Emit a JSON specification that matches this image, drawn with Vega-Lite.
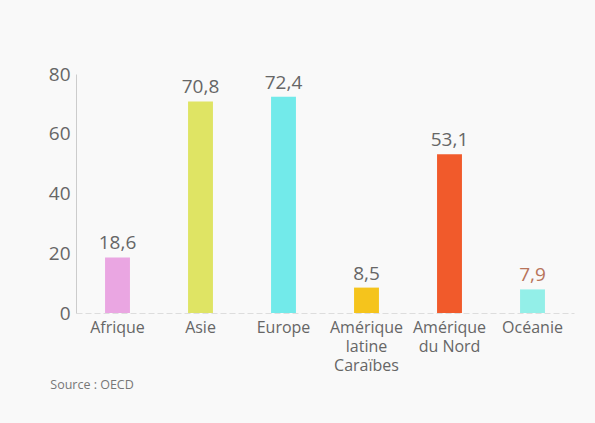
{
  "$schema": "https://vega.github.io/schema/vega-lite/v6.json",
  "width": 498,
  "height": 239,
  "autosize": {"type": "none"},
  "padding": {"left": 76, "top": 74, "right": 21, "bottom": 110},
  "background": "#f9f9f9",
  "config": {
    "font": "Open Sans",
    "view": {"stroke": null},
    "locale": {"number": {"decimal": ",", "thousands": " ", "grouping": [3], "currency": ["", " €"]}}
  },
  "title": {
    "text": "Source : OECD",
    "orient": "bottom",
    "anchor": "start",
    "dx": 2,
    "offset": 6,
    "fontSize": 12.5,
    "fontWeight": "normal",
    "color": "#777"
  },
  "data": {
    "values": [
      {"region": "Afrique", "value": 18.6},
      {"region": "Asie", "value": 70.8},
      {"region": "Europe", "value": 72.4},
      {"region": "Amérique latine Caraïbes", "value": 8.5},
      {"region": "Amérique du Nord", "value": 53.1},
      {"region": "Océanie", "value": 7.9}
    ]
  },
  "encoding": {
    "x": {
      "field": "region",
      "type": "nominal",
      "sort": null,
      "scale": {"paddingInner": 0.7, "paddingOuter": 0.35},
      "axis": {
        "title": null,
        "labelAngle": 0,
        "ticks": false,
        "labelFontSize": 16,
        "labelColor": "#666",
        "labelPadding": 6,
        "labelLineHeight": 19,
        "domainColor": "#ddd",
        "domainDash": [6, 3],
        "labelExpr": "datum.value == 'Amérique latine Caraïbes' ? ['Amérique', 'latine', 'Caraïbes'] : datum.value == 'Amérique du Nord' ? ['Amérique', 'du Nord'] : datum.value"
      }
    },
    "y": {
      "field": "value",
      "type": "quantitative",
      "scale": {"domain": [0, 80]},
      "axis": {
        "title": null,
        "values": [0, 20, 40, 60, 80],
        "grid": false,
        "ticks": false,
        "labelFontSize": 19,
        "labelColor": "#666",
        "labelPadding": 6,
        "domainColor": "#ccc"
      }
    }
  },
  "layer": [
    {
      "mark": {"type": "bar"},
      "encoding": {
        "color": {
          "field": "region",
          "type": "nominal",
          "legend": null,
          "scale": {
            "domain": ["Afrique", "Asie", "Europe", "Amérique latine Caraïbes", "Amérique du Nord", "Océanie"],
            "range": ["#eaa6e2", "#dfe464", "#72eaea", "#f5c41c", "#f15a2b", "#93efe8"]
          }
        }
      }
    },
    {
      "mark": {"type": "text", "dy": -14, "fontSize": 19},
      "encoding": {
        "text": {"field": "value", "type": "quantitative", "format": ".1f"},
        "color": {
          "condition": {"test": "datum.region == 'Océanie'", "value": "#b8745a"},
          "value": "#666"
        }
      }
    }
  ]
}
